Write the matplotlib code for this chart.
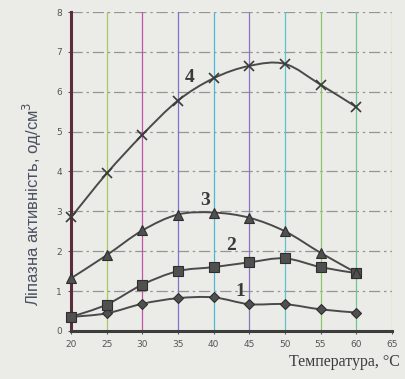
import matplotlib.pyplot as plt
from matplotlib.path import Path
from matplotlib.patches import PathPatch

# temperature, °C
temps = [20, 25, 30, 35, 40, 45, 50, 55, 60]

# lipase activity, units/cm3, for the four samples
act_1 = [0.35, 0.44, 0.68, 0.82, 0.84, 0.67, 0.67, 0.54, 0.46]
act_2 = [0.35, 0.66, 1.16, 1.50, 1.60, 1.72, 1.82, 1.60, 1.45]
act_3 = [1.32, 1.90, 2.52, 2.92, 2.97, 2.84, 2.50, 1.96, 1.46]
act_4 = [2.85, 3.95, 4.92, 5.78, 6.34, 6.65, 6.70, 6.18, 5.62]

curve_labels = ["1", "2", "3", "4"]
label_pos = [(43.8, 0.98), (42.5, 2.15), (38.8, 3.28), (36.6, 6.36)]

x_ticks = [20, 25, 30, 35, 40, 45, 50, 55, 60, 65]
y_ticks = [0, 1, 2, 3, 4, 5, 6, 7, 8]

# the vertical rules came out of the print in assorted inks
vline_colors = ["#a8c860", "#c054a8", "#7f70c8", "#4fb8d8",
                "#8a72c4", "#5cc4cc", "#8cc868", "#6cc890", "#e2c046"]

PAPER = "#ebebe8"
INK = "#4a4a4a"


def smooth_path(xs, ys):
    """Catmull-Rom style cubic Bezier path through the points."""
    pts = list(zip(xs, ys))
    verts = [pts[0]]
    codes = [Path.MOVETO]
    n = len(pts)
    for i in range(n - 1):
        p0 = pts[i - 1] if i > 0 else pts[i]
        p1 = pts[i]
        p2 = pts[i + 1]
        p3 = pts[i + 2] if i + 2 < n else pts[i + 1]
        c1 = (p1[0] + (p2[0] - p0[0]) / 6, p1[1] + (p2[1] - p0[1]) / 6)
        c2 = (p2[0] - (p3[0] - p1[0]) / 6, p2[1] - (p3[1] - p1[1]) / 6)
        verts += [c1, c2, p2]
        codes += [Path.CURVE4] * 3
    return Path(verts, codes)


fig = plt.figure(figsize=(4.06, 3.79), dpi=100)
fig.patch.set_facecolor(PAPER)
ax = fig.add_axes([0.175, 0.127, 0.79, 0.841])
ax.set_facecolor(PAPER)
ax.set_xlim(20, 65)
ax.set_ylim(0, 8)

for y in y_ticks[1:]:
    ax.axhline(y, color="#959595", lw=0.9, ls=(0, (9, 3, 2, 3)), zorder=1)
for x, c in zip(x_ticks[1:], vline_colors):
    ax.axvline(x, color=c, lw=0.9, zorder=1)

series = [
    (act_1, "D", 5.0),
    (act_2, "s", 7.0),
    (act_3, "^", 7.0),
    (act_4, "x", 7.5),
]
for vals, marker, ms in series:
    ax.add_patch(PathPatch(smooth_path(temps, vals), fill=False,
                           edgecolor=INK, lw=1.4, zorder=3))
    if marker == "x":
        ax.plot(temps, vals, ls="none", marker="x", ms=ms, mew=1.2,
                color="#3a3a3a", zorder=4, clip_on=False)
    else:
        ax.plot(temps, vals, ls="none", marker=marker, ms=ms,
                mfc="#505050", mec="#2e2e2e", mew=0.8, zorder=4,
                clip_on=False)

for text, (lx, ly) in zip(curve_labels, label_pos):
    ax.text(lx, ly, text, fontsize=14, fontweight="bold",
            family="Liberation Serif", color="#3a3a3a",
            ha="center", va="center", zorder=5)

ax.set_xticks(x_ticks)
ax.set_yticks(y_ticks)
ax.tick_params(labelsize=6.5, colors="#555555", length=2.5, width=0.8,
               pad=4)
for spine in ("top", "right"):
    ax.spines[spine].set_visible(False)
ax.spines["left"].set_color("#5a2c3c")
ax.spines["left"].set_linewidth(2.2)
ax.spines["bottom"].set_color("#3c3c3c")
ax.spines["bottom"].set_linewidth(2.2)

fig.text(0.079, 0.462, "Ліпазна активність, од/см$^3$", fontsize=12,
         family="Liberation Sans", color="#4c5060", rotation=90,
         ha="center", va="center")
fig.text(0.985, 0.045, "Температура, °C", fontsize=11.5,
         family="Liberation Serif", color="#3c3c3c", ha="right",
         va="center")

fig.savefig("out.png", dpi=100, facecolor=PAPER)
